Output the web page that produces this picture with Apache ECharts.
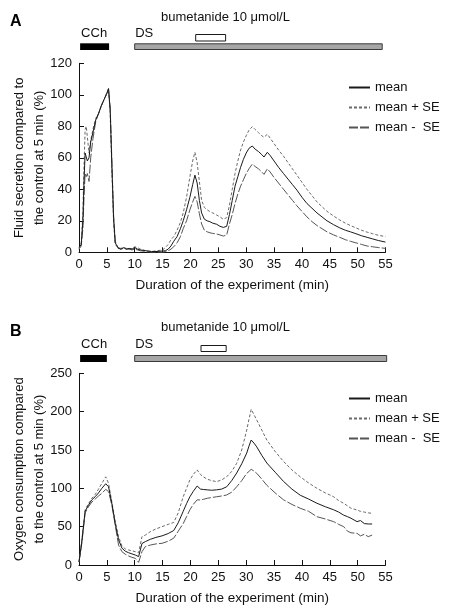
<!DOCTYPE html>
<html>
<head>
<meta charset="utf-8">
<script src="https://cdn.jsdelivr.net/npm/echarts@6/dist/echarts.min.js"></script>
<style>html,body{margin:0;padding:0;background:#fff}#c{width:450px;height:613px}</style>
</head>
<body>
<div id="c"></div>
<script>
// ---------- DATA ----------
const xTicks = [0, 5, 10, 15, 20, 25, 30, 35, 40, 45, 50, 55];
const seriesNames = ['mean', 'mean + SE', 'mean -  SE'];

// Panel A: fluid secretion (%)
const timeA = [
  0, 0.4, 0.7, 0.9, 1.1, 1.3, 1.5, 1.8, 2.1, 2.5,
  3.0, 3.5, 4.0, 4.5, 5.0, 5.3, 5.6, 5.9, 6.2, 6.5,
  7.0, 7.5, 8.0, 8.5, 9.0, 9.5, 10.0, 10.5, 11.0, 12.0,
  13.0, 14.0, 15.0, 15.5, 16.0, 16.5, 17.0, 17.6, 18.2, 18.7,
  19.3, 19.9, 20.4, 20.8, 21.2, 21.6, 22.0, 22.5, 23.0, 23.5,
  24.0, 24.7, 25.3, 25.9, 26.5, 27.0, 27.5, 28.0, 28.5, 29.0,
  29.5, 30.0, 30.5, 31.1, 31.6, 32.2, 32.8, 33.2, 33.5, 33.8,
  34.3, 35.0, 35.8, 36.7, 37.5, 38.3, 39.1, 40.0, 40.9, 41.8,
  42.7, 43.6, 44.5, 45.7, 46.8, 47.8, 48.7, 49.7, 50.7, 51.7,
  52.7, 53.7, 55.0
];
const meanA = [
  3, 5, 20, 45, 63, 62, 58, 60, 70, 76,
  84, 88, 93, 97, 101, 104, 90, 55, 22, 6,
  3, 2, 3, 2, 2.5, 2, 3, 2, 1.5, 1,
  0.5, 0.5, 0.8, 1, 2, 4, 7, 10, 15, 20,
  27, 35, 43, 49, 44, 33, 25, 21, 20, 19.4,
  18.5, 17.8, 16.5, 15.8, 16.5, 24, 33, 42, 48, 54,
  59, 63, 66, 67.5, 65.5, 64, 62, 60.5, 60, 63.5,
  61.5, 58, 54, 50, 46.5, 43, 39.5, 35, 31, 28,
  25, 22.5, 20, 17.5, 15.5, 14, 13, 11.8, 10.5, 9.5,
  8.5, 7.5, 6.5
];
const plusA = [
  2, 6, 25, 55, 78, 80, 79, 63, 71, 78,
  85, 88, 93, 97, 101, 104, 88, 52, 20, 5,
  3, 2.5, 3, 2.5, 2, 2.5, 3.5, 3, 2, 1,
  0.5, 1, 1.5, 3, 5, 8, 10, 14, 19, 25,
  35, 48, 58, 63.5, 57, 45, 33, 28.5, 27, 25.8,
  25, 23.7, 22.5, 21, 22, 30, 40, 50, 58, 65,
  70, 74, 77.5, 79.8, 78, 76, 74, 73, 72.5, 75,
  72.5, 69, 65, 61, 57, 53, 49, 44.5, 40, 36,
  32, 29, 26, 23, 20.5, 18.5, 17, 15.5, 14, 12.8,
  11.8, 10.8, 10
];
const minusA = [
  2, 4, 15, 35, 50, 48, 50, 45, 60, 72,
  83, 88, 93, 97, 101, 103, 92, 58, 24, 7,
  2.5, 2, 2.5, 2, 2, 1.5, 2, 1.5, 1, 0.5,
  0, 0, 0, 0.5, 1, 2, 3.5, 6, 10, 15,
  20, 27, 32, 35.5, 32, 24.5, 18, 14, 13, 12.4,
  12, 11.6, 11, 10.3, 11, 18, 24, 31, 37, 42,
  46, 50, 53, 56, 54.5, 53, 51, 49.5, 49, 53,
  51, 47.5, 44, 40, 36.5, 33, 29.5, 26, 22.5, 19.5,
  17, 15, 13, 11, 9.5, 8, 7, 6, 5, 4,
  3.5, 3, 2.5
];

// Panel B: oxygen consumption (%)
const timeB = [
  0, 0.5, 1.1, 1.7, 2.3, 2.9, 3.5, 4.1, 4.8, 5.3,
  5.9, 6.5, 7.1, 7.7, 8.3, 8.9, 9.5, 10.1, 10.7, 11.3,
  11.9, 12.8, 13.8, 14.9, 16.0, 17.0, 17.8, 18.7, 19.3, 19.9,
  20.5, 21.2, 21.8, 22.3, 23.0, 23.8, 24.7, 25.6, 26.5, 27.4,
  28.3, 29.2, 30.1, 30.5, 30.9, 31.4, 31.9, 32.8, 33.7, 35.2,
  36.7, 38.2, 39.7, 41.2, 42.7, 44.2, 45.7, 46.6, 47.5, 48.2,
  48.8, 49.9, 50.5, 51.2, 51.9, 52.6
];
const meanB = [
  4, 30, 70, 78, 85, 89, 94, 100, 106, 102,
  80, 54, 33, 22, 18, 16, 14.5, 13, 11, 28,
  30.5, 33.5, 36, 38, 41, 45, 55, 70, 80, 89,
  96, 103, 99, 98.5, 98, 97.5, 98, 99, 102, 110,
  120, 132, 146, 155, 163, 159, 154, 143, 133, 121,
  109, 99, 91, 86, 80.5, 76, 72, 69, 65, 63,
  61, 56.5, 58, 54, 53.5, 53.5
];
const plusB = [
  4, 32, 72, 80, 87, 92, 99, 106.5, 115, 106.5,
  82, 57, 37, 25, 21, 19.6, 18.5, 17.4, 16, 37,
  39, 43.5, 47, 50, 53, 55.5, 68, 89, 100, 111,
  118, 124, 118, 115, 112, 110, 108.7, 111, 115, 122,
  132.6, 150, 176, 190, 203, 196, 189, 176, 163, 148,
  135, 124, 115, 107, 100, 94, 89, 84, 80.4, 77,
  74, 71.7, 70, 69, 68, 67.4
];
const minusB = [
  4, 28, 68, 76, 82, 86, 90, 93.5, 98.7, 95.6,
  78, 52, 26, 17.4, 14, 11.7, 10, 8.7, 3.5, 17.4,
  24, 26, 27.5, 28.3, 31, 35, 44, 54, 63, 72,
  79, 85, 84.8, 85.6, 87, 88, 89, 90, 91.3, 95,
  102, 110, 119.5, 122, 124.8, 122.5, 119.5, 112, 104, 94,
  85, 79, 74, 70, 63, 60, 56.5, 53, 50, 44,
  42, 41.3, 38, 40, 37, 39
];

// Treatment periods (min)
const treatLabels = ['CCh', 'DS', ''];
const treatStartA = [0.2, 9.9, 20.85];
const treatEndA = [5.4, 54.5, 26.4];
const treatStartB = [0.2, 9.9, 21.8];
const treatEndB = [5.0, 55.3, 26.5];

// ---------- CHART ----------
const FONT = 'Liberation Sans';
const zip = (xs, ys) => xs.map((x, i) => [x, ys[i]]);
const chart = echarts.init(document.getElementById('c'), null, {renderer: 'canvas'});

const lineStyles = [
  {color: '#1a1a1a', width: 1, type: 'solid'},
  {color: '#6a6a6a', width: 1, type: [3, 2]},
  {color: '#555555', width: 1, type: [9, 2]}
];

function treatRender(barTop, barH, boxTop, boxH, labelY) {
  return function (params, api) {
    const s = api.value(0), e = api.value(1), kind = api.value(2);
    const p0 = api.coord([s, 0]), p1 = api.coord([e, 0]);
    const top = params.coordSys.y;
    const w = p1[0] - p0[0];
    const children = [];
    if (kind === 0) {
      children.push({type: 'rect', shape: {x: p0[0], y: top + barTop, width: w, height: barH}, style: {fill: '#000'}});
    } else if (kind === 1) {
      children.push({type: 'rect', shape: {x: p0[0] + 0.5, y: top + barTop + 0.5, width: w - 1, height: barH - 1}, style: {fill: '#a6a6a6', stroke: '#3a3a3a', lineWidth: 1}});
    } else {
      children.push({type: 'rect', shape: {x: p0[0] + 0.5, y: top + boxTop + 0.5, width: w - 1, height: boxH - 1}, style: {fill: '#fff', stroke: '#1a1a1a', lineWidth: 1}});
    }
    if (treatLabels[kind]) {
      children.push({type: 'text', style: {text: treatLabels[kind], x: p0[0] + 1, y: top + labelY, textVerticalAlign: 'middle', font: '13px ' + FONT, fill: '#111'}});
    }
    return {type: 'group', children: children};
  };
}

function axisCommon() {
  return {
    axisLine: {lineStyle: {color: '#111', width: 1}},
    axisTick: {inside: true, length: 5, lineStyle: {color: '#111'}},
    splitLine: {show: false},
    nameMoveOverlap: false,
    axisLabel: {color: '#111', fontFamily: FONT, fontSize: 13},
    nameTextStyle: {color: '#111', fontFamily: FONT, fontSize: 13, lineHeight: 20}
  };
}

const xAxes = [0, 1].map(g => Object.assign(axisCommon(), {
  type: 'value', gridIndex: g, min: 0, max: 55, interval: 5,
  name: 'Duration of the experiment (min)', nameLocation: 'middle', nameGap: 23
}));
xAxes.forEach(a => { a.axisLabel.margin = 6; a.nameTextStyle.fontSize = 13.5; });

const yA = Object.assign(axisCommon(), {
  type: 'value', gridIndex: 0, min: 0, max: 120, interval: 20,
  name: 'Fluid secretion compared to\nthe control at 5 min (%)', nameLocation: 'middle', nameGap: 30
});
const yB = Object.assign(axisCommon(), {
  type: 'value', gridIndex: 1, min: 0, max: 250, interval: 50,
  name: 'Oxygen consumption compared\nto the control at 5 min (%)', nameLocation: 'middle', nameGap: 30
});
yA.axisLabel.margin = 7; yB.axisLabel.margin = 7;

function lineSeries(name, idx, xs, ys, g) {
  return {
    type: 'line', name: name, xAxisIndex: g, yAxisIndex: g,
    data: zip(xs, ys), symbol: 'none', showSymbol: false,
    lineStyle: lineStyles[idx], itemStyle: {color: lineStyles[idx].color},
    animation: false, z: 3 - idx
  };
}

const treatDataA = treatStartA.map((s, i) => [s, treatEndA[i], i]);
const treatDataB = treatStartB.map((s, i) => [s, treatEndB[i], i]);

const legendBase = {
  orient: 'vertical', itemWidth: 21, itemHeight: 12, itemGap: 7, padding: 0, data: seriesNames,
  itemStyle: {opacity: 0, borderWidth: 0},
  textStyle: {fontFamily: FONT, fontSize: 13, color: '#111'}, selectedMode: false
};

const titleFont = {fontFamily: FONT, fontSize: 13, fontWeight: 'normal', color: '#111'};
const panelFont = {fontFamily: FONT, fontSize: 16, fontWeight: 'bold', color: '#000'};

chart.setOption({
  backgroundColor: '#fff',
  animation: false,
  title: [
    {text: 'A', left: 10, top: 14, padding: 0, textStyle: panelFont},
    {text: 'B', left: 10, top: 324, padding: 0, textStyle: panelFont},
    {text: 'bumetanide 10 \u03bcmol/L', left: 161, top: 11, padding: 0, textStyle: titleFont},
    {text: 'bumetanide 10 \u03bcmol/L', left: 161, top: 321, padding: 0, textStyle: titleFont}
  ],
  legend: [
    Object.assign({left: 348, top: 81}, legendBase),
    Object.assign({left: 348, top: 392}, legendBase)
  ],
  grid: [
    {left: 79, top: 63.3, width: 306.5, height: 189, containLabel: false, outerBoundsMode: 'none'},
    {left: 79, top: 373.3, width: 306.5, height: 191.7, containLabel: false, outerBoundsMode: 'none'}
  ],
  xAxis: xAxes,
  yAxis: [yA, yB],
  series: [
    lineSeries(seriesNames[0], 0, timeA, meanA, 0),
    lineSeries(seriesNames[1], 1, timeA, plusA, 0),
    lineSeries(seriesNames[2], 2, timeA, minusA, 0),
    lineSeries(seriesNames[0], 0, timeB, meanB, 1),
    lineSeries(seriesNames[1], 1, timeB, plusB, 1),
    lineSeries(seriesNames[2], 2, timeB, minusB, 1),
    {type: 'custom', xAxisIndex: 0, yAxisIndex: 0, data: treatDataA, encode: {x: [0, 1], y: 2},
     renderItem: treatRender(-20, 6.7, -29.3, 7.5, -30.3), silent: true, animation: false},
    {type: 'custom', xAxisIndex: 1, yAxisIndex: 1, data: treatDataB, encode: {x: [0, 1], y: 2},
     renderItem: treatRender(-18.3, 7, -28.3, 7, -29.3), silent: true, animation: false}
  ]
});
</script>
</body>
</html>
